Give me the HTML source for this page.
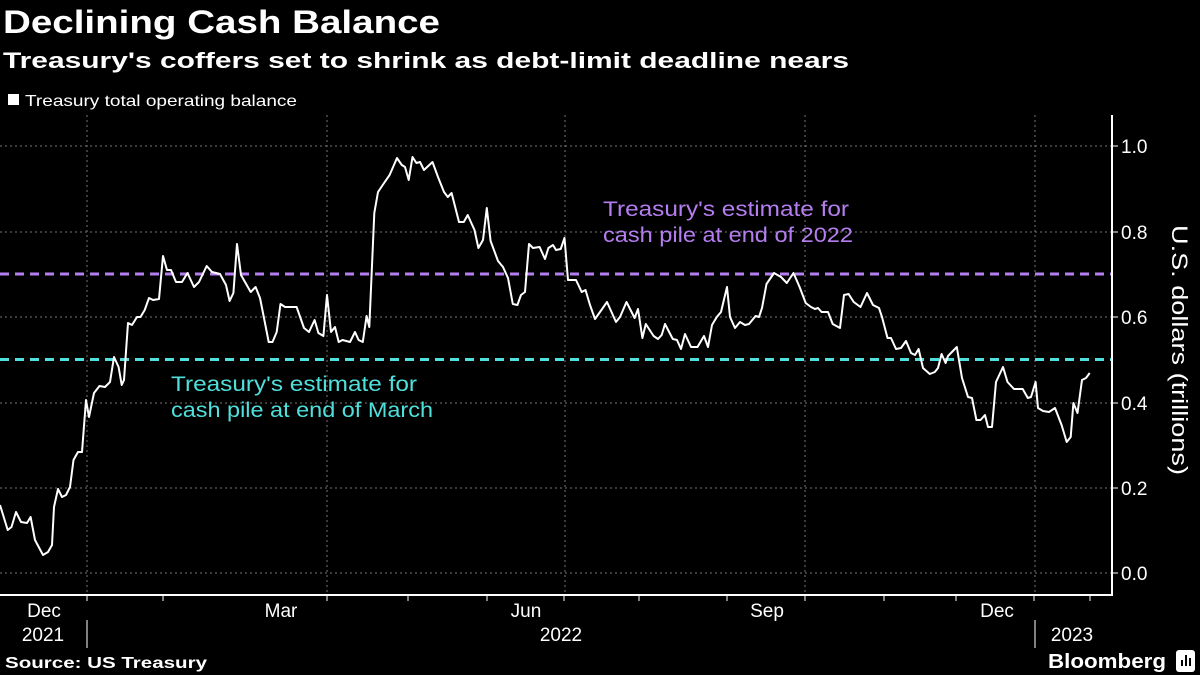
<!DOCTYPE html>
<html><head><meta charset="utf-8"><style>
html,body{margin:0;padding:0;background:#000;}
svg{display:block;font-family:"Liberation Sans",sans-serif;}
</style></head><body>
<svg width="1200" height="675" viewBox="0 0 1200 675" xmlns="http://www.w3.org/2000/svg">
<rect width="1200" height="675" fill="#000"/>
<text x="3" y="33" fill="#fff" font-size="32" font-weight="bold" textLength="437" lengthAdjust="spacingAndGlyphs">Declining Cash Balance</text>
<text x="3" y="68" fill="#fff" font-size="22" font-weight="bold" textLength="846" lengthAdjust="spacingAndGlyphs">Treasury's coffers set to shrink as debt-limit deadline nears</text>
<rect x="8" y="94" width="11" height="11" fill="#fff"/>
<text x="25" y="106" fill="#fff" font-size="16" textLength="272" lengthAdjust="spacingAndGlyphs">Treasury total operating balance</text>
<g stroke="#777" stroke-width="1" stroke-dasharray="2,3">
<line x1="0" y1="146" x2="1112" y2="146"/><line x1="0" y1="232" x2="1112" y2="232"/>
<line x1="0" y1="317" x2="1112" y2="317"/><line x1="0" y1="403" x2="1112" y2="403"/>
<line x1="0" y1="488" x2="1112" y2="488"/><line x1="0" y1="573" x2="1112" y2="573"/>
<line x1="87" y1="115" x2="87" y2="595"/><line x1="327" y1="115" x2="327" y2="595"/>
<line x1="565" y1="115" x2="565" y2="595"/><line x1="805" y1="115" x2="805" y2="595"/>
<line x1="1035" y1="115" x2="1035" y2="595"/>
</g>
<line x1="0" y1="274" x2="1112" y2="274" stroke="#b57ef0" stroke-width="3" stroke-dasharray="9,6"/>
<line x1="0" y1="359.5" x2="1112" y2="359.5" stroke="#4fe0dc" stroke-width="3" stroke-dasharray="9,6"/>
<polyline fill="none" stroke="#fff" stroke-width="2" stroke-linejoin="round" points="0,505 7.7,530 11.5,527 16,512 21,522 27,523 30.6,517 35,540 43,555 48,552 52,545 54,507 58,489 62,497 66,495 70,487 73.5,460 78,452 82,452 86,400 89,417 94,393 99.5,386 105,387 110,382 114,357 118.6,367 121.7,385 124,380 128,323 132,325 137,317 140.5,317 144.7,310 149,298 153,300 159,299 163,256 167,270 171,270 176,282 182,282 187.5,273 194,287 199,282 206.7,266 212,272 220,274 226,285 229.6,301 233.4,293 237,244 241,275 250.7,292 255.6,287 260,298 264,318 268.7,342 272.5,342 276.7,332 280.5,304 285,307 296.6,307 304,328 309,332 314.6,320 318.4,333 323.4,336 327,295 331,332 335,327 338.7,342 342.5,340 350,342 355,332 358.6,340 362.8,342 366.6,316 369.3,327 374.3,213 378,192 382.7,185 389.6,175 397,158 401.8,165 405,167 408.7,180 412.5,157 416.4,163 420,162 424,170 432.5,162 438,177 444,192 447.8,197 451.6,193 459,222 463.8,222 467.7,215 474.5,230 478.4,248 483,240 486.8,208 490.6,241 498,261 503,267 508,278 512.8,304 517.4,305 521,295 525,292 529,244 533,248 539.6,247 545,259 548.4,248 553,245 556,250 560.7,249 564.5,238 568,280 576,280 581.7,292 585.5,290 590,305 595,319 600,312 607,302 616,322 620,317 626.5,302 634.6,318 638,309 642.4,338 645.8,324 653.6,336 658,339 661.7,335 665,324 672.8,339 677,340 681,349 685,334 691,347 697.5,347 704,336 708,347 712,325 716.8,317 721,312 727,287 730,317 735,328 740,322 745,325 749,324 755.6,316 759,317 762,308 766.5,284 774,273 781,277 786.8,283 793.5,273 799.6,287 805.7,303 811,307 815,309 818,308 821.6,312 828,312 832.7,324 840,328 844,295 848.6,294 853.7,302 860.5,307 867,293 873,305 879,308 882,317 887.5,338 891,338 896,349 901,348 906,341 911,353 915,355 918.6,349 923,368 929.8,374 934.8,372 938,368 941.6,354 945.6,363 948,356 956.8,347 962,378 968,397 972,398 976.4,420 980.5,420 985,415 988,427 992,427 996,382 1003,367 1007.5,382 1014,389 1022.7,389 1027.8,398 1031,397 1035.6,382 1038,408 1043,411 1049,412 1055,408 1061.6,425 1066.7,442 1070.7,437 1073.4,403 1077.5,413 1082,380 1086,378 1089.7,373"/>
<text x="171" y="391" fill="#4fe0dc" font-size="21" textLength="246" lengthAdjust="spacingAndGlyphs">Treasury's estimate for</text>
<text x="171" y="417" fill="#4fe0dc" font-size="21" textLength="262" lengthAdjust="spacingAndGlyphs">cash pile at end of March</text>
<text x="603" y="216" fill="#b57ef0" font-size="21" textLength="246" lengthAdjust="spacingAndGlyphs">Treasury's estimate for</text>
<text x="603" y="242" fill="#b57ef0" font-size="21" textLength="250" lengthAdjust="spacingAndGlyphs">cash pile at end of 2022</text>
<g stroke="#fff" stroke-width="2">
<line x1="0" y1="595" x2="1113" y2="595"/>
<line x1="1112" y1="115" x2="1112" y2="596"/>
</g>
<g stroke="#fff" stroke-width="1">
<line x1="87" y1="595" x2="87" y2="601"/><line x1="163" y1="595" x2="163" y2="601"/>
<line x1="327" y1="595" x2="327" y2="601"/><line x1="408" y1="595" x2="408" y2="601"/>
<line x1="487" y1="595" x2="487" y2="601"/><line x1="564" y1="595" x2="564" y2="601"/>
<line x1="639" y1="595" x2="639" y2="601"/><line x1="727" y1="595" x2="727" y2="601"/>
<line x1="805" y1="595" x2="805" y2="601"/><line x1="884" y1="595" x2="884" y2="601"/>
<line x1="956" y1="595" x2="956" y2="601"/><line x1="1034" y1="595" x2="1034" y2="601"/>
<line x1="1090" y1="595" x2="1090" y2="601"/>
<line x1="87" y1="620" x2="87" y2="648"/><line x1="1035" y1="620" x2="1035" y2="648"/>
<line x1="1112" y1="146" x2="1118" y2="146"/><line x1="1112" y1="232" x2="1118" y2="232"/>
<line x1="1112" y1="317" x2="1118" y2="317"/><line x1="1112" y1="403" x2="1118" y2="403"/>
<line x1="1112" y1="488" x2="1118" y2="488"/><line x1="1112" y1="573" x2="1118" y2="573"/>
</g>
<g fill="#fff" font-size="19">
<text x="1121" y="153">1.0</text><text x="1121" y="239">0.8</text>
<text x="1121" y="324">0.6</text><text x="1121" y="410">0.4</text>
<text x="1121" y="495">0.2</text><text x="1121" y="580">0.0</text>
</g>
<text transform="translate(1172,350) rotate(90)" fill="#fff" font-size="22" text-anchor="middle" textLength="250" lengthAdjust="spacingAndGlyphs">U.S. dollars (trillions)</text>
<g fill="#fff" font-size="19" text-anchor="middle">
<text x="44" y="617">Dec</text><text x="281" y="617">Mar</text><text x="526" y="617">Jun</text>
<text x="767" y="617">Sep</text><text x="997" y="617">Dec</text>
<text x="43" y="641">2021</text><text x="561" y="641">2022</text><text x="1072" y="641">2023</text>
</g>
<text x="5" y="668" fill="#fff" font-size="16" font-weight="bold" textLength="202" lengthAdjust="spacingAndGlyphs">Source: US Treasury</text>
<text x="1048" y="668" fill="#fff" font-size="20" font-weight="bold" textLength="118" lengthAdjust="spacingAndGlyphs">Bloomberg</text>
<rect x="1176" y="650" width="19" height="22" rx="3" fill="#fff"/>
<g stroke="#000" stroke-width="2"><line x1="1182" y1="666" x2="1182" y2="660"/><line x1="1186" y1="666" x2="1186" y2="655"/><line x1="1190" y1="666" x2="1190" y2="658"/></g>
</svg>
</body></html>
